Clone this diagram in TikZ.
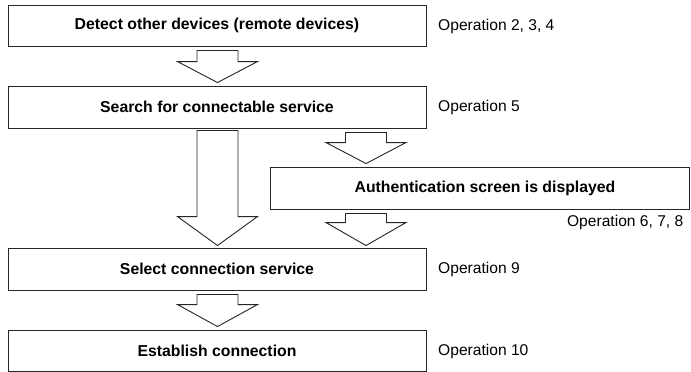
\documentclass[tikz,border=0pt]{standalone}
\usepackage{fontspec}
\setmainfont{Liberation Sans}
\usetikzlibrary{calc}
\begin{document}
\begin{tikzpicture}[x=1pt,y=-1pt,
  stepbox/.style={draw=black!85,line width=0.9pt,fill=white,inner sep=0pt,
    minimum width=418pt,minimum height=41pt,font=\fontsize{15.8}{18}\selectfont\bfseries},
  oplabel/.style={inner sep=0pt,font=\fontsize{15.6}{18}\selectfont},
  blockarrow/.style={draw=black!85,line width=0.9pt,fill=white,line join=miter}]
\useasboundingbox (0,0) rectangle (691,372);
% boxes
\node[stepbox] (b1) at (217,25.5) {Detect other devices (remote devices)};
\node[stepbox,minimum height=42pt] (b2) at (217,107) {Search for connectable service};
\node[stepbox,minimum width=419pt,minimum height=42pt] (b3) at (479.5,188) {\hspace*{11pt}Authentication screen is displayed};
\node[stepbox,minimum height=42pt] (b4) at (217,269) {Select connection service};
\node[stepbox] (b5) at (217,350.5) {Establish connection};
% labels
\node[oplabel,anchor=west] (o1) at (438,26) {Operation 2, 3, 4};
\node[oplabel,anchor=west] (o2) at (438,107.5) {Operation 5};
\node[oplabel,anchor=east] (o3) at (683.5,222) {Operation 6, 7, 8};
\node[oplabel,anchor=west] (o4) at (438,269.5) {Operation 9};
\node[oplabel,anchor=west] (o5) at (438,351) {Operation 10};
% block arrows: #1 centre x, #2 from node, #3 to node, #4 gap below source, #5 gap above target, #6 head length
\newcommand{\blkarrow}[6]{%
  \draw[blockarrow] let \p1=(#2.south), \p2=(#3.north),
      \n1={\y1-#4pt}, \n2={\y2+#5pt}, \n3={\y2+#5pt+#6pt} in
    (#1pt-20.5pt,\n1) -- (#1pt+20.5pt,\n1) -- (#1pt+20.5pt,\n3) -- (#1pt+40pt,\n3)
    -- (#1pt,\n2) -- (#1pt-40pt,\n3) -- (#1pt-20.5pt,\n3) -- cycle;}
\blkarrow{217.5}{b1}{b2}{4}{3}{21}
\blkarrow{217.5}{b2}{b4}{2}{2}{29}
\blkarrow{366}{b2}{b3}{4}{3}{21}
\blkarrow{366}{b3}{b4}{4}{2}{23}
\blkarrow{217.5}{b4}{b5}{4}{3}{22}
\end{tikzpicture}
\end{document}
